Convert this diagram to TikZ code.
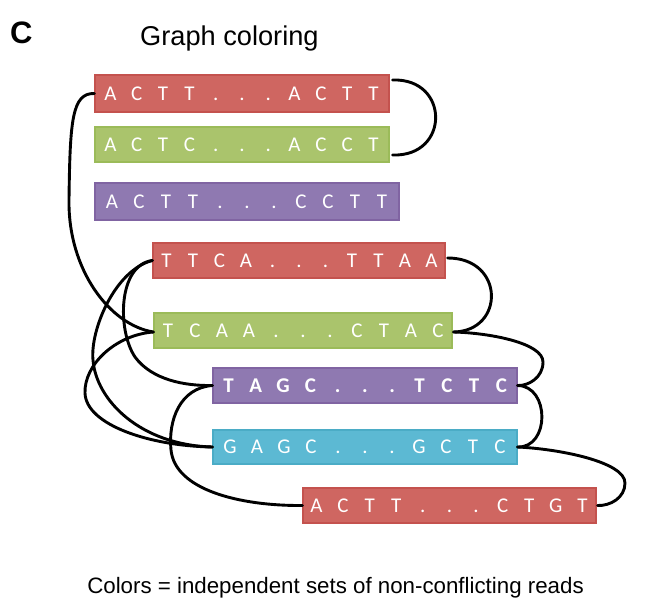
\documentclass[tikz,border=0pt]{standalone}
\usepackage{fontspec}
\setmainfont{Liberation Sans}
\newfontfamily\seqfont{Carlito}
\definecolor{rfill}{HTML}{CF6661}
\definecolor{rline}{HTML}{C4524E}
\definecolor{gfill}{HTML}{AAC46C}
\definecolor{gline}{HTML}{9BBB59}
\definecolor{pfill}{HTML}{8F79B1}
\definecolor{pline}{HTML}{8064A2}
\definecolor{cfill}{HTML}{5CB9D3}
\definecolor{cline}{HTML}{4BACC6}
\newlength\seqpitch
\def\seqloop#1{\ifx#1\relax\else\makebox[\seqpitch][c]{#1}\expandafter\seqloop\fi}
\newcommand\seqtxt[2][26.9]{\setlength\seqpitch{#1pt}\seqloop#2\relax}
\tikzset{
  readbox/.style={rectangle, line width=1.3pt, inner xsep=0pt, inner ysep=0pt,
    minimum height=35pt, text=white, text height=13.5pt, text depth=0pt,
    font=\seqfont\fontsize{21}{25}\selectfont},
  conn/.style={line width=2.9pt, black, line cap=round},
  title/.style={font=\fontsize{27.2}{32}\selectfont, anchor=base west, inner sep=0pt},
}
\begin{document}
\begin{tikzpicture}[x=1pt,y=-1pt]
\useasboundingbox (0,0) rectangle (657,616);
\node[font=\bfseries\fontsize{31}{36}\selectfont, anchor=base west, inner sep=0pt] (lab) at (10,43) {C};
\node[title] (ttl) at (140,45) {Graph coloring};
\node[font=\fontsize{22.3}{26}\selectfont, anchor=base, inner sep=0pt] (cap) at (335.5,593) {Colors = independent sets of non-conflicting reads};

\node[readbox, fill=rfill, draw=rline, minimum width=294pt, minimum height=37pt] (b1) at (242,93.5) {\seqtxt[26.3]{ACTT...ACTT}};
\node[readbox, fill=gfill, draw=gline, minimum width=294pt] (b2) at (242,144.5) {\seqtxt[26.3]{ACTC...ACCT}};
\node[readbox, fill=pfill, draw=pline, minimum width=304pt, minimum height=37pt] (b3) at (247,201.5) {\seqtxt[27]{ACTT...CCTT}};
\node[readbox, fill=rfill, draw=rline, minimum width=292pt] (b4) at (299,260.5) {\seqtxt[26.5]{TTCA...TTAA}};
\node[readbox, fill=gfill, draw=gline, minimum width=298pt] (b5) at (303,330.5) {\seqtxt[27]{TCAA...CTAC}};
\node[readbox, fill=pfill, draw=pline, minimum width=304pt, font=\seqfont\bfseries\fontsize{21}{25}\selectfont] (b6) at (365,385.5) {\seqtxt[27.3]{TAGC...TCTC}};
\node[readbox, fill=cfill, draw=cline, minimum width=304pt, minimum height=34pt] (b7) at (365,447) {\seqtxt[27]{GAGC...GCTC}};
\node[readbox, fill=rfill, draw=rline, minimum width=293pt] (b8) at (449.5,505.5) {\seqtxt[26.6]{ACTT...CTGT}};

% right-side links
\draw[conn] ([xshift=3pt,yshift=13.5pt]b1.east) .. controls (450,78) and (450,157) .. ([xshift=3pt,yshift=-10.5pt]b2.east);
\draw[conn] ([xshift=2pt,yshift=2.5pt]b4.east) .. controls (505,258) and (505,331) .. ([xshift=1pt,yshift=-1.5pt]b5.east);
\draw[conn] ([xshift=1pt,yshift=-1.5pt]b5.east) .. controls (490,333) and (543,343) .. (543,362) .. controls (543,378) and (528,386) .. (b6.east);
\draw[conn] (b6.east) .. controls (550,386) and (550,448) .. (b7.east);
\draw[conn] (b7.east) .. controls (560,449) and (625,462) .. (625,483) .. controls (625,498) and (610,506) .. ([xshift=1pt]b8.east);

% left-side links
\draw[conn] (b1.west) .. controls (72,93) and (70,120) .. (69,200) .. controls (68,270) and (110,325) .. ([yshift=-1.5pt]b5.west);
\draw[conn] (b4.west) .. controls (118,265) and (117,330) .. (135,357) .. controls (152,380) and (185,386) .. (b6.west);
\draw[conn] (b4.west) .. controls (115,270) and (90,330) .. (93,360) .. controls (96,400) and (140,445) .. (b7.west);
\draw[conn] ([yshift=-1.5pt]b5.west) .. controls (115,335) and (84,365) .. (85,393) .. controls (86,425) and (150,446) .. (b7.west);
\draw[conn] (b6.west) .. controls (180,388) and (168,420) .. (171,450) .. controls (175,490) and (240,506) .. (b8.west);
\end{tikzpicture}
\end{document}
